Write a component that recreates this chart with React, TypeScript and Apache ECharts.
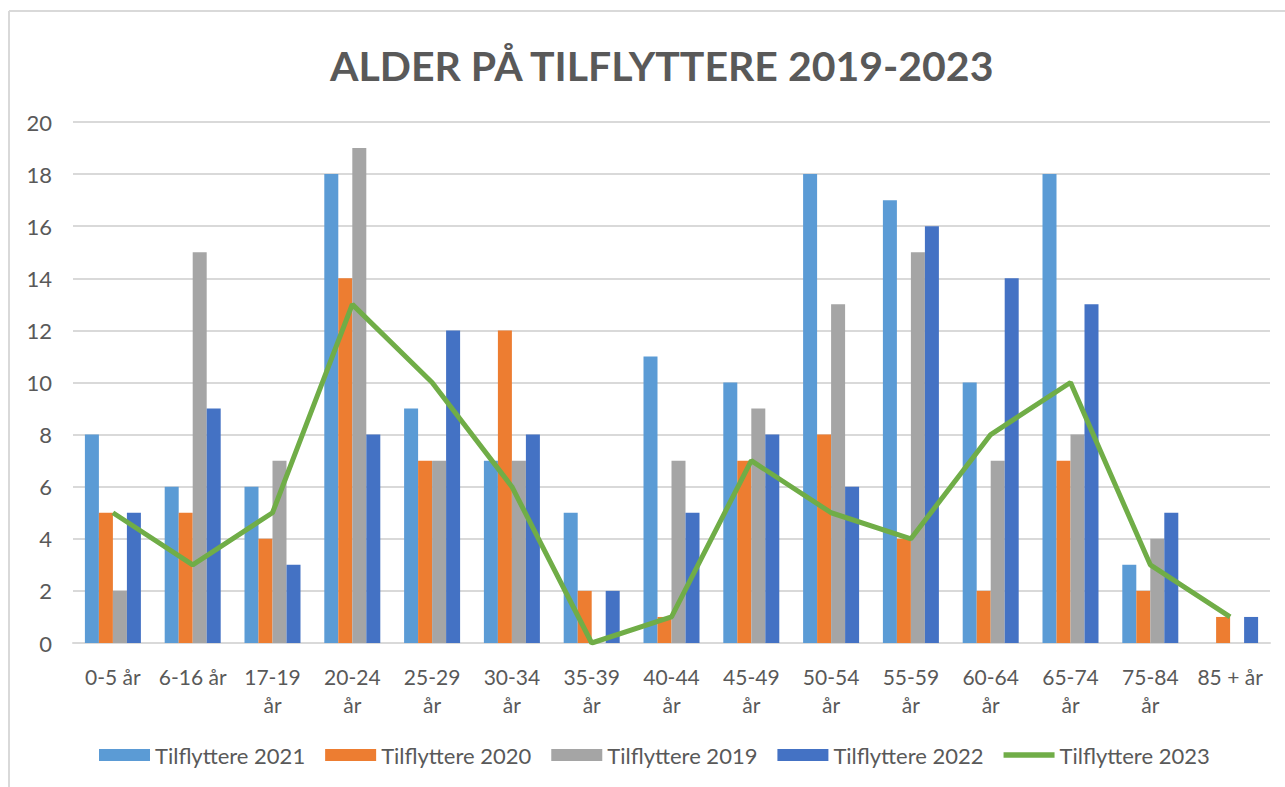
import React, { useEffect, useRef } from "react";
import * as echarts from "echarts";

const categories = [
  "0-5 år", "6-16 år", "17-19\når", "20-24\når", "25-29\når", "30-34\når", "35-39\når",
  "40-44\når", "45-49\når", "50-54\når", "55-59\når", "60-64\når", "65-74\når", "75-84\når", "85 + år",
];
const s2021 = [8, 6, 6, 18, 9, 7, 5, 11, 10, 18, 17, 10, 18, 3, 0];
const s2020 = [5, 5, 4, 14, 7, 12, 2, 1, 7, 8, 4, 2, 7, 2, 1];
const s2019 = [2, 15, 7, 19, 7, 7, 0, 7, 9, 13, 15, 7, 8, 4, 0];
const s2022 = [5, 9, 3, 8, 12, 8, 2, 5, 8, 6, 16, 14, 13, 5, 1];
const s2023 = [5, 3, 5, 13, 10, 6, 0, 1, 7, 5, 4, 8, 10, 3, 1];
const yTicks = [0, 2, 4, 6, 8, 10, 12, 14, 16, 18, 20];

const FONT = "Lato, 'Open Sans', sans-serif";
const TXT = "#595959";

export default function App() {
  const ref = useRef<HTMLDivElement>(null);
  useEffect(() => {
    if (!ref.current) return;
    const chart = echarts.init(ref.current, undefined, { renderer: "svg" });
    const bar = (name: string, data: number[], color: string) => ({
      name,
      type: "bar",
      data,
      barWidth: 14,
      barGap: "0%",
      itemStyle: { color },
    });
    chart.setOption({
      animation: false,
      textStyle: { fontFamily: FONT },
      title: {
        text: "ALDER PÅ TILFLYTTERE 2019-2023",
        left: 325,
        top: 40,
        textStyle: { fontFamily: FONT, fontSize: 41, fontWeight: "bold", color: TXT },
      },
      legend: {
        bottom: 16,
        left: 94,
        itemWidth: 51,
        itemHeight: 12,
        itemGap: 20,
        textStyle: { fontFamily: FONT, fontSize: 22, color: TXT },
        data: [
          { name: "Tilflyttere 2021", icon: "rect" },
          { name: "Tilflyttere 2020", icon: "rect" },
          { name: "Tilflyttere 2019", icon: "rect" },
          { name: "Tilflyttere 2022", icon: "rect" },
          { name: "Tilflyttere 2023", icon: "path://M0,0 H90 V10 H0 Z", itemStyle: { color: "#70AD47" } },
        ],
      },
      grid: { left: 73, right: 15, top: 122, bottom: 144 },
      xAxis: {
        type: "category",
        data: categories,
        axisLine: { lineStyle: { color: "#d9d9d9", width: 2 } },
        axisTick: { show: false },
        axisLabel: { color: TXT, fontSize: 21, lineHeight: 28, margin: 19, fontFamily: FONT, interval: 0 },
      },
      yAxis: {
        type: "value",
        min: 0,
        max: 20,
        interval: 2,
        axisLine: { show: false },
        axisTick: { show: false },
        splitLine: { lineStyle: { color: "#d9d9d9", width: 2 } },
        axisLabel: {
          color: TXT,
          fontSize: 22,
          fontFamily: FONT,
          margin: 21,
          formatter: (v: number) => (yTicks.includes(v) ? String(v) : ""),
        },
      },
      series: [
        bar("Tilflyttere 2021", s2021, "#5B9BD5"),
        bar("Tilflyttere 2020", s2020, "#ED7D31"),
        bar("Tilflyttere 2019", s2019, "#A5A5A5"),
        bar("Tilflyttere 2022", s2022, "#4472C4"),
        {
          name: "Tilflyttere 2023",
          type: "line",
          data: s2023,
          symbol: "none",
          lineStyle: { color: "#70AD47", width: 5 },
          itemStyle: { color: "#70AD47" },
          z: 5,
        },
      ],
      graphic: [
        { type: "line", shape: { x1: 9, y1: 11, x2: 1285, y2: 11 }, style: { stroke: "#d9d9d9", lineWidth: 2 } },
        { type: "line", shape: { x1: 9, y1: 11, x2: 9, y2: 787 }, style: { stroke: "#d9d9d9", lineWidth: 2 } },
      ],
    });
    return () => chart.dispose();
  }, []);
  return <div ref={ref} style={{ position: "absolute", left: 0, top: 0, width: 1285, height: 787 }} />;
}
